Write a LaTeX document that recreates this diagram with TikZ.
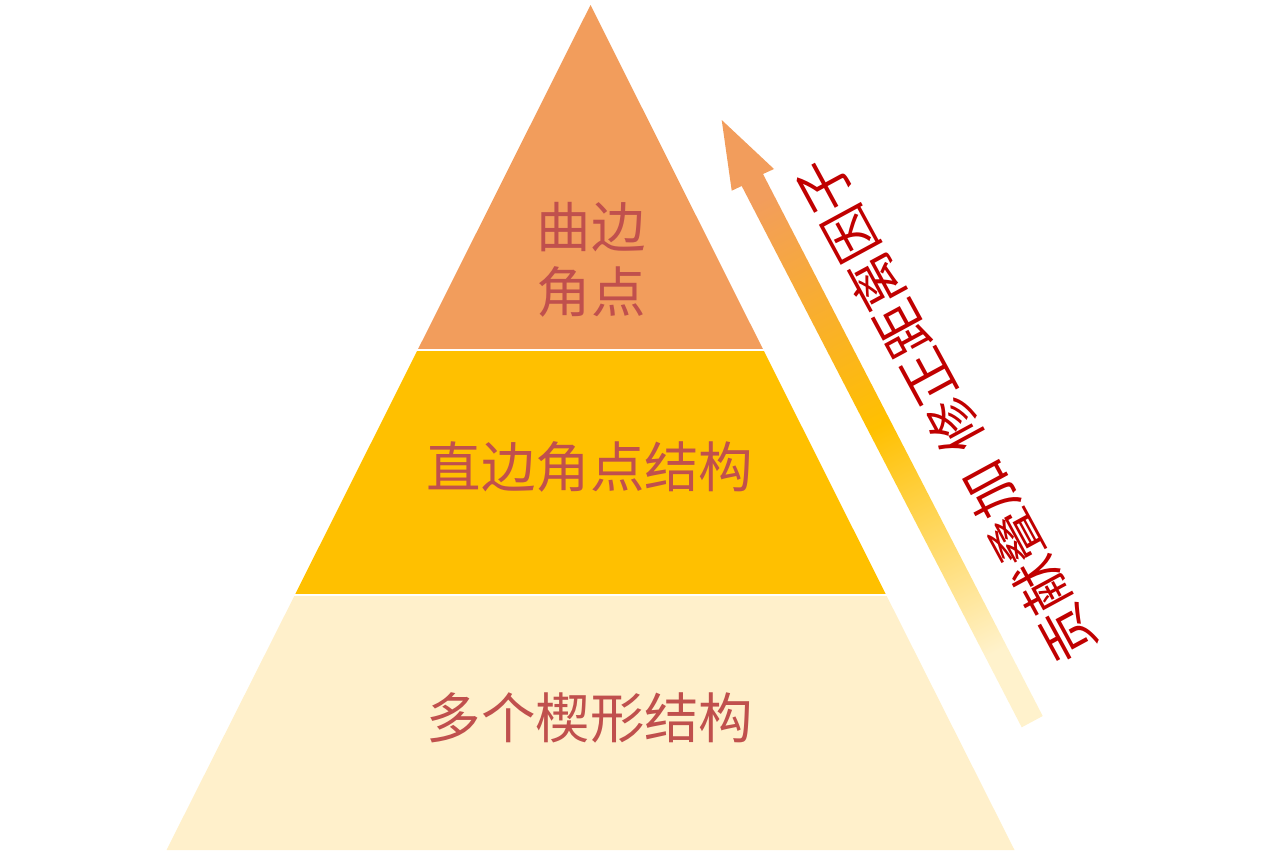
\documentclass[tikz,border=0pt]{standalone}
\usepackage{fontspec}
\newfontfamily\cjk{Noto Sans CJK SC}
\usetikzlibrary{calc}
\definecolor{topfill}{HTML}{F29D5C}
\definecolor{midfill}{HTML}{FFC000}
\definecolor{basefill}{HTML}{FFF0CB}
\definecolor{lblred}{HTML}{C0504D}
\definecolor{notered}{HTML}{C00000}
\definecolor{arrowpale}{HTML}{FFF2CC}

\begin{document}
\begin{tikzpicture}[x=0.02cm,y=-0.02cm,
  lbl/.style={font=\cjk\fontsize{31}{37}\selectfont,text=lblred,align=center},
  note/.style={font=\cjk\fontsize{31}{37}\selectfont,text=notered,rotate=118.5}]
\useasboundingbox (0,0) rectangle (1280,850);

% pyramid layers
\fill[basefill] (166.5,850) -- (294.8,595) -- (886.2,595) -- (1014.5,850) -- cycle;
\fill[midfill] (294.8,595) -- (417.6,350) -- (763.4,350) -- (886.2,595) -- cycle;
\fill[topfill] (417.6,350) -- (590.5,5) -- (763.4,350) -- cycle;
\draw[white,line width=1pt] (417,350) -- (764,350);
\draw[white,line width=1pt] (294,595) -- (887,595);

\node[lbl] (curved) at (591,260) {曲边\\角点};
\node[lbl] (straight) at (590,467) {直边角点结构};
\node[lbl] (wedge) at (590,718) {多个楔形结构};

% rising arrow
\shade[top color=topfill,bottom color=arrowpale,middle color=midfill,shading angle=27]
  (1021.7,727.3) -- (741.7,186) -- (731.7,190.7) -- (721.7,120)
  -- (774,169) -- (763,174) -- (1042.7,716) -- cycle;
%\draw (1032,721.7) -- (721.7,120);

\node[note] (factor) at (946,410) {贡献叠加\hspace{0.35em}修正距离因子};
\end{tikzpicture}
\end{document}
